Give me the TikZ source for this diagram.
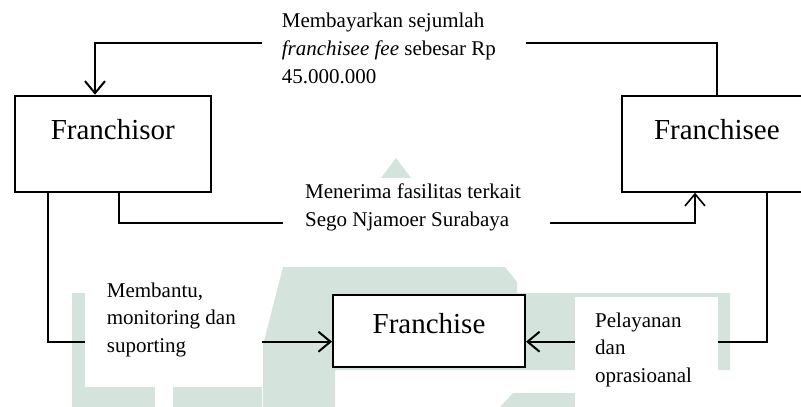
\documentclass[tikz,border=0pt]{standalone}
\usepackage{fontspec}
\setmainfont{Liberation Serif}
\usetikzlibrary{arrows.meta}

\definecolor{wm}{RGB}{212,227,219}

\begin{document}
\begin{tikzpicture}[x=1pt,y=-1pt,
  box/.style={draw, line width=2pt, fill=white, inner sep=0pt,
    font=\fontsize{29}{33}\selectfont, text height=10pt, text depth=18.8pt},
  link/.style={line width=2pt},
  arr/.style={link, -{Straight Barb[length=12pt,width=20pt]}},
  lbl/.style={anchor=north west, inner sep=0pt, align=left,
    font=\fontsize{21}{27.5}\selectfont},
]
\useasboundingbox (0,0) rectangle (801,407);
\clip (0,0) rectangle (801,407);

% faint background emblem
\fill[wm] (72,293) rectangle (155,407);
\fill[wm] (173,330) rectangle (262,407);
\fill[wm] (263,345) -- (283,267) -- (505,267) -- (517,282) -- (517,293)
  -- (730,293) -- (730,370) -- (335,370) -- (335,407) -- (263,407) -- cycle;
\fill[wm] (500,407) -- (513,393) -- (575,393) -- (575,407) -- cycle;
\fill[wm] (381,178) -- (396,158) -- (411,178) -- cycle;

% parties
\node[box, minimum width=196.3pt, minimum height=96pt] (franchisor) at (112.8,143.7) {Franchisor};
\node[box, minimum width=190.3pt, minimum height=96pt] (franchisee) at (716.85,143.7) {Franchisee};
\node[box, minimum width=192pt, minimum height=71.7pt, text height=19pt, text depth=14pt]
  (franchise) at (429,330.85) {Franchise};

% flows between the parties
\draw[arr] (franchisee.north) -- ++(0,-51.4) -| ([xshift=-17.8pt]franchisor.north);
\draw[arr, line width=1.6pt] ([xshift=6.2pt]franchisor.south) -- ++(0,30) -| ([xshift=-21.85pt]franchisee.south);
\draw[arr] ([xshift=-65.1pt]franchisor.south) |- ([yshift=-10.85pt]franchise.west);
\draw[arr] ([xshift=49.85pt]franchisee.south) |- ([yshift=-10.85pt]franchise.east);

% white text boxes over the flows
\fill[white] (262,8) rectangle (526,92);
\fill[white] (283,178) rectangle (550,245);
\fill[white] (85,270) rectangle (262,387);
\fill[white] (575,296.7) rectangle (718,407);

% flow labels
\node[lbl, font=\fontsize{21}{28}\selectfont] (fee) at (281.7,12.4)
  {Membayarkan sejumlah\\\textit{franchisee fee} sebesar Rp\\45.000.000};
\node[lbl] (facility) at (305,184) {Menerima fasilitas terkait\\Sego Njamoer Surabaya};
\node[lbl] (support) at (106.7,282.7) {Membantu,\\monitoring dan\\suporting};
\node[lbl] (service) at (595,312.4) {Pelayanan\\dan\\oprasioanal};
\end{tikzpicture}
\end{document}
